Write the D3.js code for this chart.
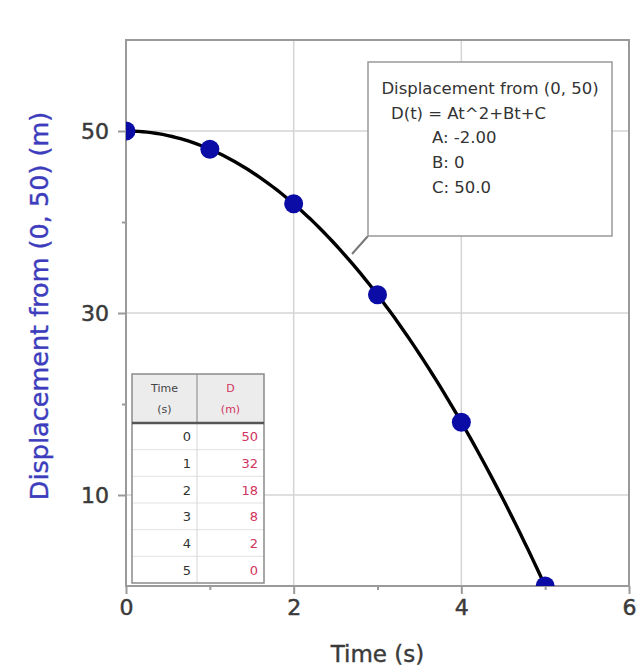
<!DOCTYPE html>
<html>
<head>
<meta charset="utf-8">
<script src="https://cdn.jsdelivr.net/npm/d3@7"></script>
<style>
  html, body { margin: 0; padding: 0; background: #fff; }
  svg { display: block; font-family: "DejaVu Sans", Verdana, sans-serif; }
</style>
</head>
<body>
<div id="chart"></div>
<script>
// measured points (blue dots)
const times = [0, 1, 2, 3, 4, 5];
const displacements = [50, 48, 42, 32, 18, 0];

// data table shown in the lower-left corner
const tableTimes = [0, 1, 2, 3, 4, 5];
const tableDisplacements = [50, 32, 18, 8, 2, 0];

// quadratic fit reported in the annotation box
const fitValues = [-2.0, 0, 50.0];
const fitLabels = ["A: -2.00", "B: 0", "C: 50.0"];

const xTicks = [0, 2, 4, 6];
const xMinorTicks = [1, 3, 5];
const yTicks = [10, 30, 50];
const yMinorTicks = [20, 40];

class VisFitChart {
  constructor(el) {
    this.el = el;
    this.setup();
    this.scaffold();
    this.render();
  }

  setup() {
    this.width = 638;
    this.height = 670;
    this.plot = { left: 126, top: 40, right: 629, bottom: 586 };

    this.x = d3.scaleLinear().domain([0, 6]).range([this.plot.left, this.plot.right]);
    this.y = d3.scaleLinear().domain([0, 60]).range([this.plot.bottom, this.plot.top]);

    this.colors = {
      frame: "#9a9a9a",
      grid: "#d4d4d4",
      tick: "#3a3a3a",
      point: "#0b0ba6",
      yTitle: "#3c3cbc",
      red: "#d0345e",
    };
  }

  scaffold() {
    this.svg = d3
      .select(this.el)
      .append("svg")
      .attr("width", this.width)
      .attr("height", this.height);

    this.svg
      .append("clipPath")
      .attr("id", "plot-clip")
      .append("rect")
      .attr("x", this.plot.left)
      .attr("y", this.plot.top)
      .attr("width", this.plot.right - this.plot.left)
      .attr("height", this.plot.bottom - this.plot.top);
  }

  render() {
    const { x, y, plot, colors } = this;

    // gridlines at major ticks
    this.svg
      .append("g")
      .selectAll("line")
      .data(xTicks.filter((d) => d > 0 && d < 6))
      .join("line")
      .attr("x1", (d) => x(d))
      .attr("x2", (d) => x(d))
      .attr("y1", plot.top)
      .attr("y2", plot.bottom)
      .attr("stroke", colors.grid)
      .attr("stroke-width", 1.5);

    this.svg
      .append("g")
      .selectAll("line")
      .data(yTicks)
      .join("line")
      .attr("x1", plot.left)
      .attr("x2", plot.right)
      .attr("y1", (d) => y(d))
      .attr("y2", (d) => y(d))
      .attr("stroke", colors.grid)
      .attr("stroke-width", 1.5);

    // axes
    const styleAxis = (g) => {
      g.select(".domain").remove();
      g.selectAll(".tick line").attr("stroke", colors.frame).attr("stroke-width", 2);
      g.selectAll(".tick text")
        .attr("fill", colors.tick)
        .attr("stroke", colors.tick)
        .attr("stroke-width", 0.5)
        .style("font-size", "22px")
        .style("font-family", '"DejaVu Sans", sans-serif');
    };

    this.svg
      .append("g")
      .attr("transform", `translate(0,${plot.bottom})`)
      .call(d3.axisBottom(x).tickValues(xTicks).tickSize(8).tickPadding(5).tickFormat(d3.format("d")))
      .call(styleAxis);

    this.svg
      .append("g")
      .attr("transform", `translate(0,${plot.bottom})`)
      .call(d3.axisBottom(x).tickValues(xMinorTicks).tickSize(4).tickFormat(""))
      .call(styleAxis);

    this.svg
      .append("g")
      .attr("transform", `translate(${plot.left},0)`)
      .call(d3.axisLeft(y).tickValues(yTicks).tickSize(8).tickPadding(9).tickFormat(d3.format("d")))
      .call(styleAxis);

    this.svg
      .append("g")
      .attr("transform", `translate(${plot.left},0)`)
      .call(d3.axisLeft(y).tickValues(yMinorTicks).tickSize(4).tickFormat(""))
      .call(styleAxis);

    // frame
    this.svg
      .append("rect")
      .attr("x", plot.left)
      .attr("y", plot.top)
      .attr("width", plot.right - plot.left)
      .attr("height", plot.bottom - plot.top)
      .attr("fill", "none")
      .attr("stroke", colors.frame)
      .attr("stroke-width", 2);

    // axis titles
    this.svg
      .append("text")
      .attr("x", (plot.left + plot.right) / 2)
      .attr("y", 662)
      .attr("text-anchor", "middle")
      .attr("fill", colors.tick)
      .attr("stroke", colors.tick)
      .attr("stroke-width", 0.4)
      .style("font-size", "23px")
      .text("Time (s)");

    this.svg
      .append("text")
      .attr("transform", "translate(48,306)rotate(-90)")
      .attr("text-anchor", "middle")
      .attr("fill", colors.yTitle)
      .attr("stroke", colors.yTitle)
      .attr("stroke-width", 0.4)
      .style("font-size", "25.5px")
      .text("Displacement from (0, 50) (m)");

    this.renderTable();

    const plotG = this.svg.append("g").attr("clip-path", "url(#plot-clip)");

    // fitted curve D(t) = At^2 + Bt + C, drawn from the coefficients in the box
    const [A, B, C] = fitValues;
    const tMax = d3.max(times);
    const curve = d3.range(0, tMax + 0.001, tMax / 100).map((t) => [t, A * t * t + B * t + C]);

    plotG
      .append("path")
      .datum(curve)
      .attr("fill", "none")
      .attr("stroke", "#000")
      .attr("stroke-width", 3.4)
      .attr("d", d3.line().x((d) => x(d[0])).y((d) => y(d[1])));

    plotG
      .selectAll("circle")
      .data(times.map((t, i) => ({ t, d: displacements[i] })))
      .join("circle")
      .attr("cx", (d) => x(d.t))
      .attr("cy", (d) => y(d.d))
      .attr("r", 9.5)
      .attr("fill", colors.point);

    this.renderAnnotation();
  }

  renderTable() {
    const box = { left: 132, top: 374, right: 264, bottom: 583, header: 423, split: 197 };
    const rowH = (box.bottom - box.header) / tableTimes.length;
    const g = this.svg.append("g");

    g.append("rect")
      .attr("x", box.left)
      .attr("y", box.top)
      .attr("width", box.right - box.left)
      .attr("height", box.bottom - box.top)
      .attr("fill", "#fff");

    g.append("rect")
      .attr("x", box.left)
      .attr("y", box.top)
      .attr("width", box.right - box.left)
      .attr("height", box.header - box.top)
      .attr("fill", "#ececec");

    g.selectAll(".row-line")
      .data(d3.range(1, tableTimes.length))
      .join("line")
      .attr("x1", box.left)
      .attr("x2", box.right)
      .attr("y1", (i) => box.header + i * rowH)
      .attr("y2", (i) => box.header + i * rowH)
      .attr("stroke", "#e2e2e2")
      .attr("stroke-width", 1);

    g.append("line")
      .attr("x1", box.split)
      .attr("x2", box.split)
      .attr("y1", box.top)
      .attr("y2", box.bottom)
      .attr("stroke", "#d6d6d6")
      .attr("stroke-width", 1);

    g.append("line")
      .attr("x1", box.split)
      .attr("x2", box.split)
      .attr("y1", box.top)
      .attr("y2", box.header)
      .attr("stroke", "#aaa")
      .attr("stroke-width", 1.5);

    g.append("rect")
      .attr("x", box.left)
      .attr("y", box.top)
      .attr("width", box.right - box.left)
      .attr("height", box.bottom - box.top)
      .attr("fill", "none")
      .attr("stroke", "#8a8a8a")
      .attr("stroke-width", 1.5);

    g.append("line")
      .attr("x1", box.left)
      .attr("x2", box.right)
      .attr("y1", box.header)
      .attr("y2", box.header)
      .attr("stroke", "#555")
      .attr("stroke-width", 2.5);

    const headers = [
      { lines: ["Time", "(s)"], cx: (box.left + box.split) / 2, color: "#444" },
      { lines: ["D", "(m)"], cx: (box.split + box.right) / 2, color: this.colors.red },
    ];
    headers.forEach((h) => {
      h.lines.forEach((line, i) => {
        g.append("text")
          .attr("x", h.cx)
          .attr("y", box.top + 18 + i * 21)
          .attr("text-anchor", "middle")
          .attr("fill", h.color)
          .style("font-size", "11px")
          .text(line);
      });
    });

    g.selectAll(".t-cell")
      .data(tableTimes)
      .join("text")
      .attr("x", box.split - 6)
      .attr("y", (d, i) => box.header + (i + 0.5) * rowH + 5)
      .attr("text-anchor", "end")
      .attr("fill", "#333")
      .style("font-size", "13px")
      .text((d) => d);

    g.selectAll(".d-cell")
      .data(tableDisplacements)
      .join("text")
      .attr("x", box.right - 6)
      .attr("y", (d, i) => box.header + (i + 0.5) * rowH + 5)
      .attr("text-anchor", "end")
      .attr("fill", this.colors.red)
      .style("font-size", "13px")
      .text((d) => d);
  }

  renderAnnotation() {
    const box = { left: 368, top: 62, right: 612, bottom: 236 };
    const g = this.svg.append("g");

    g.append("line")
      .attr("x1", box.left)
      .attr("y1", box.bottom)
      .attr("x2", 352)
      .attr("y2", 254)
      .attr("stroke", "#777")
      .attr("stroke-width", 2);

    g.append("rect")
      .attr("x", box.left)
      .attr("y", box.top)
      .attr("width", box.right - box.left)
      .attr("height", box.bottom - box.top)
      .attr("fill", "#fff")
      .attr("stroke", "#999")
      .attr("stroke-width", 1.5);

    g.append("text")
      .attr("x", (box.left + box.right) / 2)
      .attr("y", 94)
      .attr("text-anchor", "middle")
      .attr("fill", "#333")
      .style("font-size", "16.5px")
      .text("Displacement from (0, 50)");

    g.append("text")
      .attr("x", 391)
      .attr("y", 119)
      .attr("fill", "#333")
      .style("font-size", "16.5px")
      .text("D(t) = At^2+Bt+C");

    g.selectAll(".fit-line")
      .data(fitLabels)
      .join("text")
      .attr("x", 432)
      .attr("y", (d, i) => 143 + i * 25)
      .attr("fill", "#333")
      .style("font-size", "16.5px")
      .text((d) => d);
  }
}

new VisFitChart(document.getElementById("chart"));
</script>
</body>
</html>
